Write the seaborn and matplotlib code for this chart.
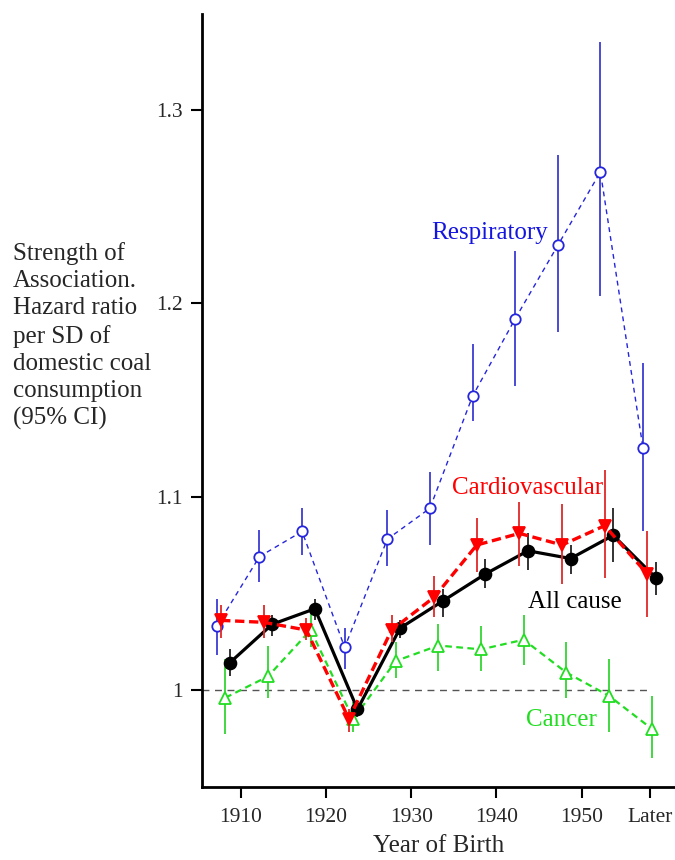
import numpy as np
import pandas as pd
import matplotlib
matplotlib.use("Agg")
import matplotlib.pyplot as plt
import seaborn as sns

# birth cohorts (mid years), last one is "Later"
cohort = [1908, 1913, 1918, 1923, 1928, 1933, 1938, 1943, 1948, 1953, 1958]
tick_years = [1910, 1920, 1930, 1940, 1950, 1958]
tick_labels = ["1910", "1920", "1930", "1940", "1950", "Later"]

# hazard ratios with 95% CI
resp_hr = [1.033, 1.069, 1.082, 1.022, 1.078, 1.094, 1.152, 1.192, 1.230, 1.268, 1.125]
resp_lo = [1.018, 1.056, 1.070, 1.011, 1.064, 1.075, 1.139, 1.157, 1.185, 1.204, 1.082]
resp_hi = [1.047, 1.083, 1.094, 1.032, 1.093, 1.113, 1.179, 1.227, 1.277, 1.335, 1.169]

cardio_hr = [1.036, 1.035, 1.031, 0.985, 1.031, 1.048, 1.075, 1.081, 1.075, 1.085, 1.060]
cardio_lo = [1.027, 1.027, 1.026, 0.978, 1.025, 1.038, 1.061, 1.064, 1.055, 1.058, 1.038]
cardio_hi = [1.044, 1.044, 1.037, 0.990, 1.039, 1.059, 1.089, 1.097, 1.096, 1.114, 1.082]

cancer_hr = [0.996, 1.007, 1.031, 0.985, 1.015, 1.023, 1.021, 1.026, 1.009, 0.997, 0.980]
cancer_lo = [0.977, 0.996, 1.022, 0.978, 1.006, 1.010, 1.010, 1.013, 0.996, 0.978, 0.965]
cancer_hi = [1.016, 1.023, 1.042, 0.994, 1.025, 1.034, 1.033, 1.039, 1.025, 1.016, 0.997]

all_hr = [1.014, 1.034, 1.042, 0.990, 1.032, 1.046, 1.060, 1.072, 1.068, 1.080, 1.058]
all_lo = [1.007, 1.028, 1.036, 0.986, 1.027, 1.038, 1.053, 1.062, 1.060, 1.066, 1.049]
all_hi = [1.021, 1.039, 1.047, 0.994, 1.036, 1.052, 1.068, 1.081, 1.075, 1.094, 1.066]

sns.set_style("ticks")
plt.rcParams["font.family"] = ["Liberation Serif", "DejaVu Serif"]

fig = plt.figure(figsize=(6.75, 8.6), dpi=100)
ax = fig.add_axes([202 / 675, 1 - 787 / 860, 1 - 202 / 675, (787 - 14) / 860])

# series styles: (hr, lo, hi, x offset, line colour, bar colour, lw, dashes, marker, filled, marker size)
series = [
    (resp_hr, resp_lo, resp_hi, -0.8, "#2525dd", "#3c3cd2", 1.0, (3.5, 3), "o", False, 7.5),
    (cancer_hr, cancer_lo, cancer_hi, 0.2, "#22dd22", "#33d633", 1.6, (3, 2), "^", False, 8),
    (all_hr, all_lo, all_hi, 0.7, "black", "#222222", 2.3, None, "o", True, 8.5),
    (cardio_hr, cardio_lo, cardio_hi, -0.3, "#ff0000", "#e02828", 2.4, (2.8, 1.4), "v", True, 9),
]

ax.hlines(1.0, 1905.46, 1958, colors="#555555", linestyles=(0, (5, 4)), linewidth=1.0, zorder=1)

for i, (hr, lo, hi, off, col, bcol, lw, dash, mk, filled, ms) in enumerate(series):
    x = np.array(cohort) + off
    df = pd.DataFrame({"year": x, "hr": hr})
    ax.vlines(x, lo, hi, colors=bcol, linewidth=1.3, zorder=2 + i)
    line_kw = dict(linestyle="-") if dash is None else dict(dashes=dash)
    sns.lineplot(data=df, x="year", y="hr", ax=ax, color=col, linewidth=lw,
                 marker=mk, markersize=ms,
                 markerfacecolor=col if filled else "white",
                 markeredgecolor=col, markeredgewidth=1.3,
                 estimator=None, sort=False, zorder=3 + i, **line_kw)
    if dash is not None:
        ax.lines[-1].set_dashes(dash)

ax.set_xlim(1905.46, 1960.95)
ax.set_ylim(0.9498, 1.3497)
ax.set_xticks(tick_years)
ax.set_xticklabels(tick_labels)
ax.set_yticks([1.0, 1.1, 1.2, 1.3])
ax.set_yticklabels(["1", "1.1", "1.2", "1.3"])
ax.tick_params(axis="both", labelsize=15.5, length=8, width=1.5, direction="out", color="black")
ax.tick_params(axis="x", pad=7)
ax.tick_params(axis="y", pad=6)
for s in ["top", "right"]:
    ax.spines[s].set_visible(False)
for s in ["left", "bottom"]:
    ax.spines[s].set_linewidth(2)
    ax.spines[s].set_color("black")

ax.set_xlabel("Year of Birth", fontsize=18, labelpad=6)
ax.set_ylabel("")

ax.text(1939.2, 1.2366, "Respiratory", color="#1515e0", fontsize=18, ha="center", va="center")
ax.text(1943.6, 1.1045, "Cardiovascular", color="#ff0000", fontsize=18, ha="center", va="center")
ax.text(1949.25, 1.0457, "All cause", color="black", fontsize=18, ha="center", va="center")
ax.text(1947.6, 0.9845, "Cancer", color="#22dd22", fontsize=18, ha="center", va="center")

fig.text(13 / 675, 1 - 242 / 860,
         "Strength of\nAssociation.\nHazard ratio\nper SD of\ndomestic coal\nconsumption\n(95% CI)",
         fontsize=18, ha="left", va="top", linespacing=1.3)

fig.savefig("out.png", dpi=100)
